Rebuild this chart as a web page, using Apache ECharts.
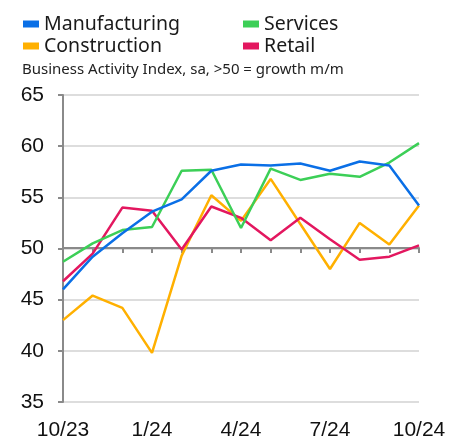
<!DOCTYPE html>
<html><head><meta charset="utf-8">
<script src="https://cdn.jsdelivr.net/npm/echarts@6/dist/echarts.min.js"></script>
<style>html,body{margin:0;padding:0;background:#fff}#c{width:458px;height:441px}</style>
</head><body><div id="c"></div>
<script>
const months = ['10/23','11/23','12/23','1/24','2/24','3/24','4/24','5/24','6/24','7/24','8/24','9/24','10/24'];
const manufacturing = [46.0, 49.2, 51.5, 53.6, 54.8, 57.6, 58.2, 58.1, 58.3, 57.6, 58.5, 58.1, 54.2];
const services      = [48.7, 50.5, 51.8, 52.1, 57.6, 57.7, 52.0, 57.8, 56.7, 57.3, 57.0, 58.4, 60.3];
const construction  = [43.0, 45.4, 44.2, 39.8, 49.3, 55.2, 52.7, 56.8, 52.4, 48.0, 52.5, 50.4, 54.2];
const retail        = [46.8, 49.5, 54.0, 53.7, 49.9, 54.1, 53.0, 50.8, 53.0, 50.9, 48.9, 49.2, 50.3];
const yTicks = {min: 35, max: 65, interval: 5};
const subtitle = 'Business Activity Index, sa, >50 = growth m/m';

const colors = {Manufacturing:'#0a6fe6', Services:'#3ccf57', Construction:'#ffb000', Retail:'#e3175f'};
const chart = echarts.init(document.getElementById('c'), null, {renderer:'canvas'});
const gridTop = 95, gridBottom = 38, H = 441;
const gridH = H - gridTop - gridBottom;
const axisOffset = -Math.round(gridH * (50 - yTicks.min) / (yTicks.max - yTicks.min));
const legendText = {fontFamily:'Noto Sans', fontSize:19.5, color:'#1a1a1a'};
function mk(name, data){
  return {name, type:'line', data, xAxisIndex:0, symbol:'none', smooth:false,
    lineStyle:{width:2.5, color:colors[name]}, itemStyle:{color:colors[name]}};
}
chart.setOption({
  animation:false,
  title:{text:subtitle, left:17, top:57, textStyle:{fontFamily:'Noto Sans', fontSize:15, fontWeight:'normal', color:'#222'}},
  legend:[
    {data:['Manufacturing','Construction'], orient:'vertical', left:18, top:9, itemWidth:16, itemHeight:7, itemGap:2,
     icon:'rect', textStyle:legendText},
    {data:['Services','Retail'], orient:'vertical', left:238, top:9, itemWidth:16, itemHeight:7, itemGap:2,
     icon:'rect', textStyle:legendText}
  ],
  grid:{left:63, right:39, top:gridTop, bottom:gridBottom, containLabel:false},
  xAxis:[
    {type:'category', data:months, boundaryGap:false, position:'bottom',
     axisLine:{show:false}, axisTick:{show:false},
     axisLabel:{interval:2, margin:18, fontFamily:'Liberation Sans', fontSize:21, color:'#111'}},
    {type:'category', data:months, boundaryGap:false, position:'bottom', offset:axisOffset,
     axisLine:{show:true, lineStyle:{color:'#8a8a8a', width:2}},
     axisTick:{show:true, interval:0, length:5, lineStyle:{color:'#8a8a8a', width:2}},
     axisLabel:{show:false}, splitLine:{show:false}}
  ],
  yAxis:{type:'value', min:yTicks.min, max:yTicks.max, interval:yTicks.interval,
    axisLine:{show:true, lineStyle:{color:'#8a8a8a', width:2}},
    axisTick:{show:true, length:5, lineStyle:{color:'#8a8a8a', width:2}},
    axisLabel:{margin:19, fontFamily:'Liberation Sans', fontSize:21, color:'#111'},
    splitLine:{show:true, lineStyle:{color:'#d2d2d2', width:1.5}}},
  series:[
    mk('Construction', construction),
    mk('Retail', retail),
    mk('Services', services),
    mk('Manufacturing', manufacturing)
  ]
});
</script></body></html>
